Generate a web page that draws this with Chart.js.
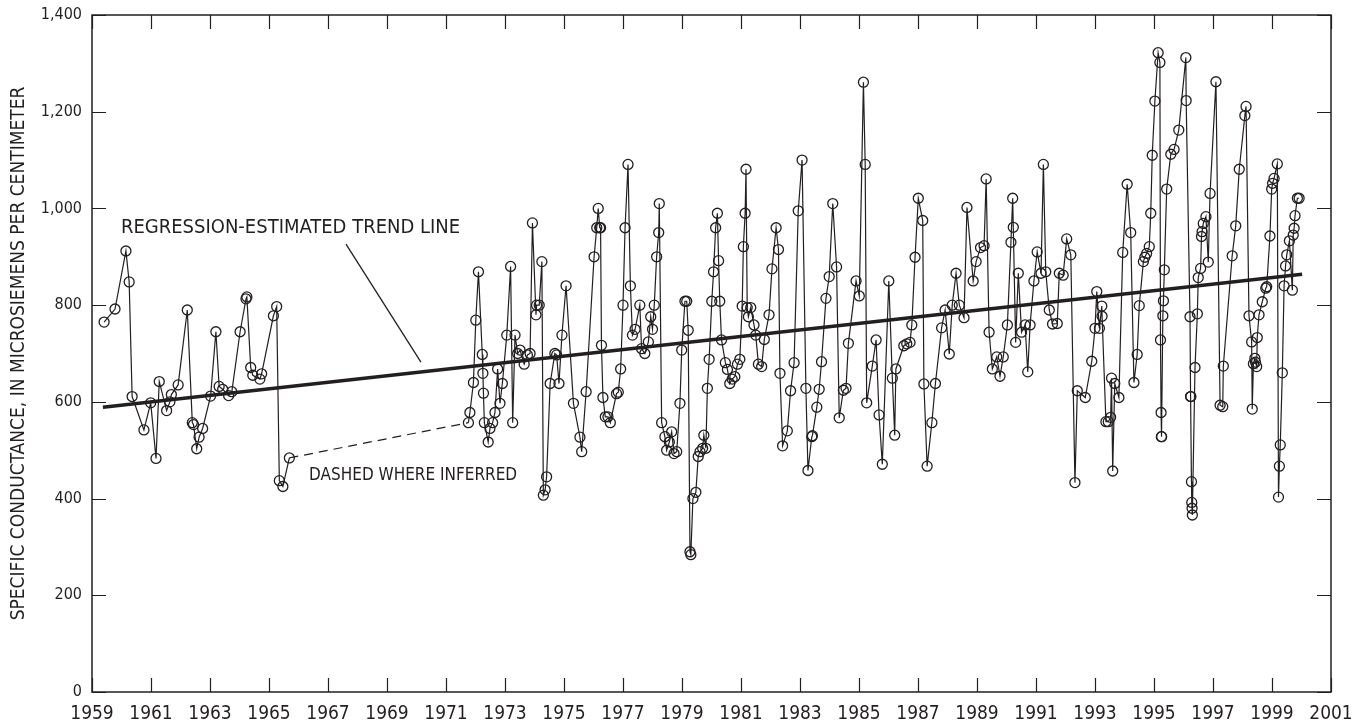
<!DOCTYPE html>
<html>
<head>
<meta charset="utf-8">
<title>Specific conductance</title>
<script src="https://cdn.jsdelivr.net/npm/chart.js@4.4.1/dist/chart.umd.min.js"></script>
<style>
  body { margin: 0; background: #fff; }
  #grafico { display: block; }
</style>
</head>
<body>
<canvas id="grafico" width="1361" height="725"></canvas>
<script>
// Amostras 1959-1965 (ano decimal e condutancia especifica, uS/cm)
const anos1959a1965 = [
  1959.41, 1959.78, 1960.15, 1960.26, 1960.36, 1960.76, 1960.99, 1961.17, 1961.28, 1961.53,
  1961.64, 1961.69, 1961.92, 1962.23, 1962.40, 1962.44, 1962.55, 1962.63, 1962.75, 1963.02,
  1963.20, 1963.31, 1963.43, 1963.63, 1963.74, 1964.02, 1964.22, 1964.25, 1964.38, 1964.45,
  1964.69, 1964.75, 1965.15, 1965.26, 1965.35, 1965.47, 1965.69
];
const valores1959a1965 = [
  765, 792, 912, 848, 611, 542, 598, 483, 642, 582,
  600, 615, 635, 790, 557, 553, 503, 527, 545, 612,
  745, 632, 626, 613, 621, 745, 813, 817, 671, 655,
  647, 658, 778, 797, 437, 425, 484
];

// Amostras 1971-2000
const anos1971a2000 = [
  1971.76, 1971.81, 1971.93, 1972.01, 1972.10, 1972.23, 1972.25, 1972.27, 1972.30, 1972.43,
  1972.49, 1972.58, 1972.66, 1972.75, 1972.83, 1972.91, 1973.06, 1973.19, 1973.26, 1973.34,
  1973.43, 1973.51, 1973.65, 1973.76, 1973.85, 1973.93, 1974.05, 1974.07, 1974.16, 1974.25,
  1974.30, 1974.36, 1974.41, 1974.53, 1974.69, 1974.75, 1974.83, 1974.93, 1975.07, 1975.32,
  1975.54, 1975.60, 1975.75, 1976.02, 1976.11, 1976.16, 1976.21, 1976.24, 1976.27, 1976.32,
  1976.40, 1976.49, 1976.57, 1976.78, 1976.84, 1976.92, 1977.00, 1977.07, 1977.17, 1977.25,
  1977.32, 1977.41, 1977.57, 1977.63, 1977.74, 1977.86, 1977.94, 1978.00, 1978.06, 1978.14,
  1978.21, 1978.23, 1978.31, 1978.42, 1978.48, 1978.57, 1978.65, 1978.73, 1978.82, 1978.93,
  1978.99, 1979.10, 1979.16, 1979.21, 1979.27, 1979.30, 1979.37, 1979.47, 1979.55, 1979.61,
  1979.70, 1979.74, 1979.81, 1979.86, 1979.92, 1980.01, 1980.07, 1980.14, 1980.20, 1980.24,
  1980.28, 1980.34, 1980.47, 1980.54, 1980.62, 1980.70, 1980.79, 1980.88, 1980.96, 1981.04,
  1981.08, 1981.14, 1981.17, 1981.21, 1981.25, 1981.33, 1981.44, 1981.50, 1981.59, 1981.70,
  1981.79, 1981.95, 1982.05, 1982.19, 1982.27, 1982.32, 1982.41, 1982.57, 1982.68, 1982.80,
  1982.94, 1983.07, 1983.20, 1983.27, 1983.40, 1983.42, 1983.57, 1983.65, 1983.73, 1983.88,
  1983.99, 1984.11, 1984.24, 1984.33, 1984.47, 1984.56, 1984.64, 1984.90, 1985.01, 1985.15,
  1985.21, 1985.26, 1985.45, 1985.58, 1985.68, 1985.79, 1986.01, 1986.13, 1986.21, 1986.25,
  1986.52, 1986.62, 1986.73, 1986.79, 1986.90, 1987.01, 1987.16, 1987.20, 1987.31, 1987.47,
  1987.59, 1987.80, 1987.92, 1988.06, 1988.16, 1988.29, 1988.40, 1988.56, 1988.66, 1988.87,
  1988.97, 1989.12, 1989.24, 1989.31, 1989.41, 1989.52, 1989.67, 1989.78, 1989.89, 1990.03,
  1990.15, 1990.21, 1990.23, 1990.31, 1990.40, 1990.51, 1990.63, 1990.72, 1990.80, 1990.93,
  1991.04, 1991.17, 1991.25, 1991.33, 1991.45, 1991.56, 1991.72, 1991.79, 1991.92, 1992.04,
  1992.18, 1992.32, 1992.40, 1992.67, 1992.89, 1993.00, 1993.06, 1993.15, 1993.23, 1993.24,
  1993.37, 1993.45, 1993.53, 1993.56, 1993.60, 1993.67, 1993.81, 1993.94, 1994.09, 1994.21,
  1994.32, 1994.43, 1994.50, 1994.64, 1994.69, 1994.75, 1994.84, 1994.89, 1994.94, 1995.03,
  1995.14, 1995.20, 1995.22, 1995.24, 1995.25, 1995.26, 1995.30, 1995.32, 1995.35, 1995.43,
  1995.57, 1995.68, 1995.84, 1996.08, 1996.09, 1996.22, 1996.24, 1996.25, 1996.27, 1996.28,
  1996.29, 1996.30, 1996.39, 1996.47, 1996.50, 1996.58, 1996.61, 1996.63, 1996.67, 1996.76,
  1996.84, 1996.90, 1997.10, 1997.24, 1997.33, 1997.35, 1997.65, 1997.77, 1997.89, 1998.08,
  1998.12, 1998.22, 1998.31, 1998.33, 1998.37, 1998.42, 1998.44, 1998.48, 1998.50, 1998.56,
  1998.67, 1998.79, 1998.82, 1998.93, 1998.99, 1999.02, 1999.07, 1999.18, 1999.22, 1999.25,
  1999.28, 1999.35, 1999.41, 1999.46, 1999.50, 1999.59, 1999.69, 1999.72, 1999.75, 1999.78,
  1999.86, 1999.92
];
const valores1971a2000 = [
  557, 578, 640, 769, 869, 698, 659, 618, 557, 517,
  545, 557, 578, 668, 597, 638, 738, 880, 557, 738,
  700, 707, 678, 697, 700, 970, 780, 800, 800, 890,
  407, 418, 445, 638, 700, 697, 638, 738, 840, 597,
  527, 497, 621, 900, 960, 1000, 960, 960, 717, 609,
  569, 569, 557, 617, 620, 668, 800, 960, 1091, 840,
  738, 750, 800, 710, 700, 724, 776, 750, 800, 900,
  950, 1010, 557, 528, 500, 517, 538, 493, 497, 597,
  707, 808, 808, 748, 290, 284, 400, 413, 487, 497,
  504, 531, 504, 628, 688, 808, 869, 960, 990, 892,
  808, 728, 681, 667, 638, 647, 652, 678, 688, 798,
  921, 990, 1081, 795, 776, 795, 759, 738, 678, 673,
  729, 780, 875, 960, 915, 659, 509, 540, 623, 681,
  995, 1100, 628, 458, 528, 530, 589, 626, 683, 814,
  859, 1010, 879, 567, 624, 628, 721, 850, 819, 1261,
  1091, 598, 674, 728, 573, 471, 850, 649, 531, 668,
  716, 720, 723, 759, 899, 1021, 975, 637, 467, 557,
  638, 753, 790, 699, 800, 866, 800, 774, 1002, 850,
  890, 919, 923, 1061, 744, 668, 693, 653, 693, 759,
  930, 1021, 961, 723, 866, 744, 759, 662, 759, 850,
  910, 866, 1091, 869, 790, 761, 762, 866, 862, 937,
  904, 433, 623, 609, 684, 752, 828, 752, 798, 777,
  559, 559, 568, 649, 457, 638, 609, 909, 1050, 950,
  640, 698, 799, 890, 899, 907, 921, 990, 1110, 1222,
  1322, 1302, 728, 578, 528, 528, 778, 809, 873, 1040,
  1112, 1122, 1162, 1312, 1223, 776, 611, 611, 435, 392,
  380, 366, 671, 782, 857, 876, 942, 952, 969, 983,
  889, 1031, 1262, 593, 590, 674, 902, 964, 1081, 1192,
  1211, 778, 724, 585, 679, 690, 682, 673, 733, 780,
  807, 835, 838, 943, 1040, 1052, 1062, 1092, 403, 467,
  511, 660, 840, 881, 904, 933, 831, 945, 959, 985,
  1021, 1021
];

// Linha de tendencia estimada por regressao (extremos)
const anosTendencia = [1959.37, 2000.02];
const valoresTendencia = [589, 864];

// Eixos
const anoMin = 1959, anoMax = 2001, passoAno = 2;
const condMin = 0, condMax = 1400, passoCond = 200;

const INK = '#231f20';
const FONTE = "'Liberation Sans Narrow', 'DejaVu Sans Condensed', 'Roboto Condensed', 'Liberation Sans', sans-serif";
const TICK = 14;

// Monta os pontos {x, y} a partir dos arrays
function pares(xs, ys) {
  return xs.map((x, i) => ({ x: x, y: ys[i] }));
}
const amostras = pares(anos1959a1965, valores1959a1965).concat(pares(anos1971a2000, valores1971a2000));

// Moldura, ticks internos e anotacoes
const molduraPlugin = {
  id: 'moldura',
  afterDraw(chart) {
    const { ctx, chartArea: a, scales: { x, y } } = chart;
    ctx.save();
    ctx.strokeStyle = INK;
    ctx.lineWidth = 1.5;
    ctx.strokeRect(a.left, a.top, a.right - a.left, a.bottom - a.top);

    ctx.lineWidth = 1.2;
    ctx.beginPath();
    x.ticks.forEach(t => {
      const px = Math.round(x.getPixelForValue(t.value)) + 0.5;
      ctx.moveTo(px, a.bottom); ctx.lineTo(px, a.bottom - TICK);
      ctx.moveTo(px, a.top); ctx.lineTo(px, a.top + TICK);
    });
    y.ticks.forEach(t => {
      const py = Math.round(y.getPixelForValue(t.value)) + 0.5;
      ctx.moveTo(a.left, py); ctx.lineTo(a.left + TICK, py);
      ctx.moveTo(a.right, py); ctx.lineTo(a.right - TICK, py);
    });
    ctx.stroke();

    // linha de chamada da tendencia
    ctx.lineWidth = 1.3;
    ctx.beginPath();
    ctx.moveTo(x.getPixelForValue(1967.61), y.getPixelForValue(926));
    ctx.lineTo(x.getPixelForValue(1970.15), y.getPixelForValue(682));
    ctx.stroke();

    ctx.fillStyle = INK;
    ctx.textAlign = 'left';
    ctx.textBaseline = 'middle';
    ctx.font = '20px ' + FONTE;
    ctx.fillText('REGRESSION-ESTIMATED TREND LINE', x.getPixelForValue(1959.98), y.getPixelForValue(959));
    ctx.font = '17px ' + FONTE;
    ctx.fillText('DASHED WHERE INFERRED', x.getPixelForValue(1966.36), y.getPixelForValue(447));
    ctx.restore();
  }
};

Chart.defaults.font.family = FONTE;
Chart.defaults.color = INK;

const ctx = document.getElementById('grafico').getContext('2d');
const grafico = new Chart(ctx, {
  type: 'line',
  data: {
    datasets: [
      {
        label: 'Condutancia especifica',
        data: amostras,
        borderColor: INK,
        borderWidth: 1.2,
        pointRadius: 5,
        pointBorderWidth: 1.3,
        pointBorderColor: INK,
        pointBackgroundColor: 'rgba(0,0,0,0)',
        tension: 0,
        fill: false,
        segment: {
          // trecho inferido (lacuna de dados) tracejado
          borderDash: c => (c.p1.parsed.x - c.p0.parsed.x > 2 ? [9, 6] : undefined)
        }
      },
      {
        label: 'Tendencia',
        data: pares(anosTendencia, valoresTendencia),
        borderColor: INK,
        borderWidth: 3.5,
        pointRadius: 0,
        tension: 0,
        fill: false
      }
    ]
  },
  options: {
    responsive: false,
    animation: false,
    events: [],
    layout: { padding: { left: 0, top: 15, right: 30, bottom: 0 } },
    plugins: {
      legend: { display: false },
      tooltip: { enabled: false }
    },
    scales: {
      x: {
        type: 'linear',
        min: anoMin,
        max: anoMax,
        afterFit: s => { s.height = 33; s.paddingLeft = 0; s.paddingRight = 0; },
        grid: { display: false, drawTicks: false },
        border: { display: false },
        ticks: {
          stepSize: passoAno,
          autoSkip: false,
          maxRotation: 0,
          padding: 11,
          font: { size: 19 },
          color: INK,
          callback: v => String(v)
        }
      },
      y: {
        min: condMin,
        max: condMax,
        afterFit: s => { s.width = 92; s.paddingTop = 0; s.paddingBottom = 0; },
        grid: { display: false, drawTicks: false },
        border: { display: false },
        ticks: {
          stepSize: passoCond,
          padding: 10,
          font: { size: 16 },
          color: INK,
          callback: v => v.toLocaleString('en-US')
        },
        title: {
          display: true,
          text: 'SPECIFIC CONDUCTANCE, IN MICROSIEMENS PER CENTIMETER',
          font: { size: 19 },
          color: INK,
          padding: { top: 8, bottom: 0 }
        }
      }
    }
  },
  plugins: [molduraPlugin]
});
</script>
</body>
</html>
